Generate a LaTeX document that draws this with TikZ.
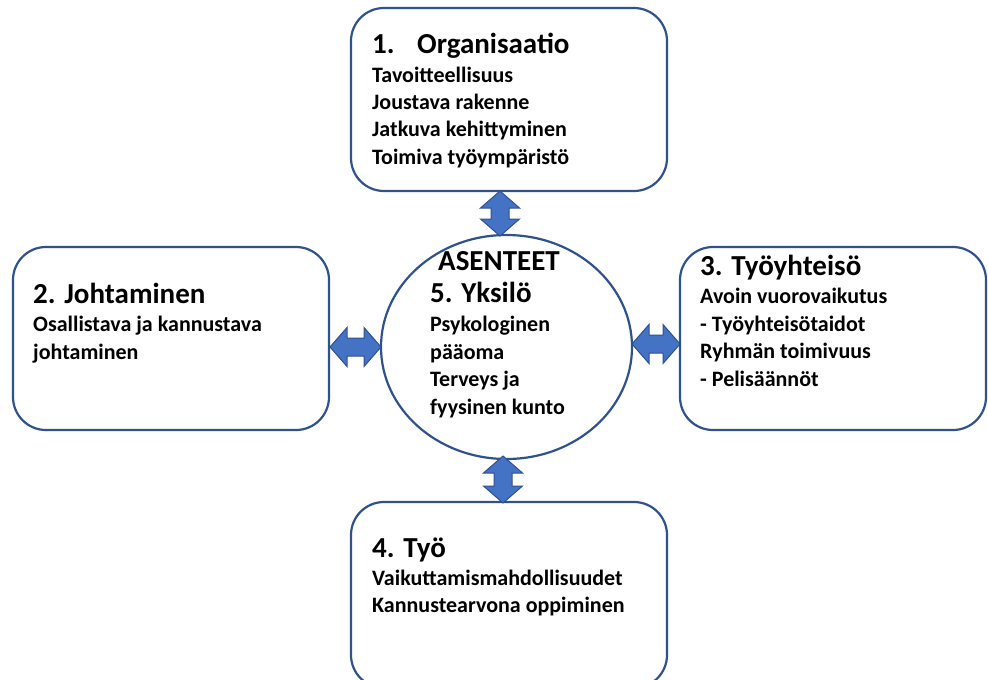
\documentclass[tikz,border=0pt]{standalone}
\usepackage{fontspec}
\setmainfont{Carlito}
\usetikzlibrary{shapes.geometric}
\definecolor{edgeblue}{HTML}{2F528F}
\definecolor{fillblue}{HTML}{4472C4}
\tikzset{
  card/.style={draw=edgeblue, line width=2.2pt, rounded corners=33pt, fill=white,
               minimum width=316pt, minimum height=183pt, inner sep=0pt},
  hub/.style={draw=edgeblue, line width=2.2pt, ellipse, fill=white,
              minimum width=251pt, minimum height=224pt, inner sep=0pt},
  head/.style={anchor=base west, inner sep=0pt, font=\bfseries\fontsize{29}{34}\selectfont},
  % multi-line bodies are anchored at the baseline of their last line
  body/.style={anchor=base west, inner sep=0pt, align=left,
               font=\bfseries\fontsize{22}{27.4}\selectfont},
  link/.style={draw=edgeblue, fill=fillblue, line width=1pt, line join=miter}
}
% two-way block arrow: start point, rotation angle, overall length
\newcommand\twoway[3]{%
  \begin{scope}[shift={(#1)}, rotate=#2]
    \draw[link] (0,0) -- (17,19.5) -- (17,9) -- (#3-17,9) -- (#3-17,19.5) -- (#3,0)
      -- (#3-17,-19.5) -- (#3-17,-9) -- (17,-9) -- (17,-19.5) -- cycle;
  \end{scope}}
\begin{document}
\begin{tikzpicture}[x=1pt,y=-1pt]
\useasboundingbox (0,0) rectangle (988,680);
\clip (0,0) rectangle (988,680);
\fill[white] (0,0) rectangle (988,680);

% boxes
\node[card] (org) at (509,99.5) {};
\node[card] (lead) at (171,338.5) {};
\node[card, minimum width=306pt] (comm) at (833,338.5) {};
\node[card, minimum height=186pt] (work) at (509,595) {};
\node[hub] (self) at (506.5,347) {};

% two-way arrows between the hub and the boxes
\twoway{500,191}{-90}{45}
\twoway{503,456}{-90}{47}
\twoway{330,347}{0}{51}
\twoway{632,344}{0}{48}

% texts: organisation
\node[head] (orgT) at (372,53) {\makebox[45pt][l]{1.}Organisaatio};
\node[body] (orgB) at (372,164.2) {Tavoitteellisuus\\Joustava rakenne\\Jatkuva kehittyminen\\Toimiva työympäristö};

% leadership
\node[head] (leadT) at (33,303) {2. Johtaminen};
\node[body] (leadB) at (33,359) {Osallistava ja kannustava\\johtaminen};

% work community
\node[head] (commT) at (700,275) {3. Työyhteisö};
\node[body] (commB) at (700,386) {Avoin vuorovaikutus\\- Työyhteisötaidot\\Ryhmän toimivuus\\- Pelisäännöt};

% work
\node[head] (workT) at (372,557) {4. Työ};
\node[body] (workB) at (372,612.5) {Vaikuttamismahdollisuudet\\Kannustearvona oppiminen};

% individual
\node[head] (selfA) at (438,270) {ASENTEET};
\node[head] (selfT) at (430,302) {5. Yksilö};
\node[body] (selfB) at (430,414) {Psykologinen\\pääoma\\Terveys ja\\fyysinen kunto};
\end{tikzpicture}
\end{document}
